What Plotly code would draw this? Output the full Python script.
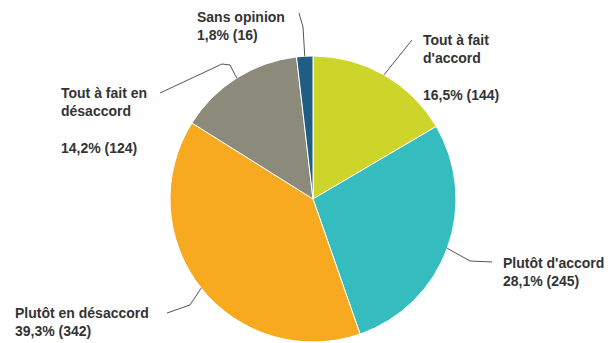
import math
import plotly.graph_objects as go

# Survey answers, clockwise from 12 o'clock
labels = ["Tout à fait d'accord", "Plutôt d'accord", "Plutôt en désaccord",
          "Tout à fait en désaccord", "Sans opinion"]
counts = [144, 245, 342, 124, 16]
colors = ["#CDD52B", "#35BCBE", "#F7AA1F", "#8C8A7B", "#1F5D83"]

# Label text lines (name part) for each slice
label_lines = [
    ["Tout à fait", "d'accord", ""],
    ["Plutôt d'accord"],
    ["Plutôt en désaccord"],
    ["Tout à fait en", "désaccord", ""],
    ["Sans opinion"],
]

W, H = 612, 343
CX, CY, R = 313, 199, 143  # pie centre / radius in pixels


def px(x):
    return x / W


def py(y):
    return 1 - y / H


total = sum(counts)
pcts = [c / total * 100 for c in counts]

fig = go.Figure(go.Pie(
    labels=labels,
    values=counts,
    sort=False,
    direction="clockwise",
    rotation=0,
    marker=dict(colors=colors, line=dict(color="white", width=1)),
    textinfo="none",
    hoverinfo="skip",
    showlegend=False,
    domain=dict(x=[(CX - R) / W, (CX + R) / W], y=[(H - CY - R) / H, (H - CY + R) / H]),
))

# Label anchor (left x, top y) and leader line waypoints, in pixels
label_pos = [(421, 30), (501, 253), (13, 303), (59, 83), (195, 7)]
leader_via = [
    [(412, 40)],
    [(470, 261), (492, 262)],
    [(190, 305), (167, 313)],
    [(230, 65), (222, 64), (160, 93)],
    [(303, 27), (299, 13)],
]

annotations = []
shapes = []
cum = 0.0
for i, c in enumerate(counts):
    mid = (cum + c / 2) / total * 2 * math.pi
    cum += c
    ex = CX + R * math.sin(mid)
    ey = CY - R * math.cos(mid)
    pts = [(ex, ey)] + leader_via[i]
    path = "M " + " L ".join(f"{px(x):.5f},{py(y):.5f}" for x, y in pts)
    shapes.append(dict(type="path", xref="paper", yref="paper", path=path,
                       line=dict(color="#555555", width=1)))

    pct = f"{pcts[i]:.1f}".replace(".", ",") + f"% ({c})"
    text = "<br>".join(f"<b>{t}</b>" if t else "" for t in label_lines[i])
    text += "<br>" + f"<b>{pct}</b>"
    lx, ly = label_pos[i]
    annotations.append(dict(
        x=px(lx), y=py(ly), xref="paper", yref="paper",
        xanchor="left", yanchor="top", align="left",
        text=text, showarrow=False,
        font=dict(family="Liberation Sans, Arial, sans-serif", size=14, color="#333333"),
    ))

fig.update_layout(
    width=W, height=H,
    margin=dict(l=0, r=0, t=0, b=0),
    paper_bgcolor="white",
    plot_bgcolor="white",
    annotations=annotations,
    shapes=shapes,
)

fig.write_html("out.html")
